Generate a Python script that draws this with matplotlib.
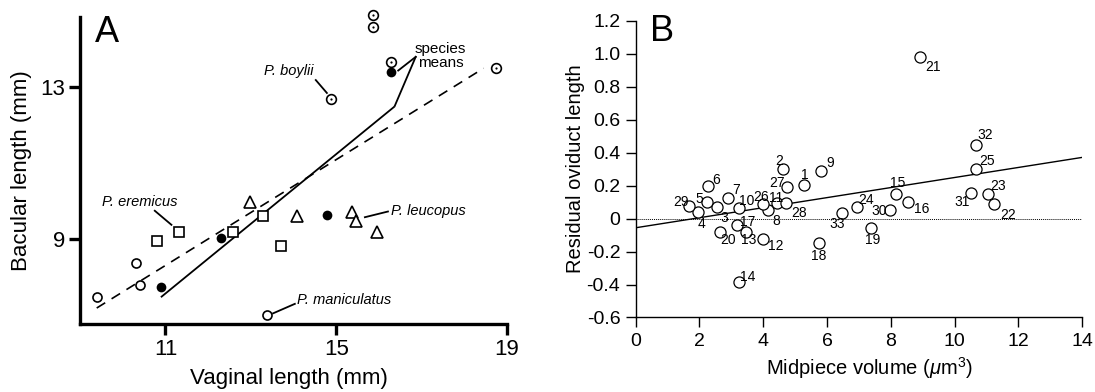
import numpy as np
import matplotlib
matplotlib.use('Agg')
import matplotlib.pyplot as plt

plt.rcParams['font.family'] = ['Liberation Sans', 'DejaVu Sans']
plt.rcParams['mathtext.fontset'] = 'custom'
plt.rcParams['mathtext.rm'] = 'Liberation Sans'
plt.rcParams['mathtext.it'] = 'Liberation Sans:italic'

# ---- Panel A: vaginal vs bacular length (mm)
maniculatus_x = [9.40, 10.31, 10.40, 13.37]
maniculatus_y = [7.47, 8.37, 7.79, 7.00]
boylii_x = [14.87, 15.86, 15.86, 16.27, 18.73]
boylii_y = [12.68, 14.88, 14.57, 13.65, 13.51]
eremicus_x = [10.81, 11.32, 12.59, 13.29, 13.70]
eremicus_y = [8.95, 9.18, 9.18, 9.61, 8.80]
leucopus_x = [12.99, 14.07, 15.36, 15.47, 15.95]
leucopus_y = [9.97, 9.61, 9.72, 9.48, 9.17]
means_x = [10.89, 12.29, 14.79, 16.29]
means_y = [7.74, 9.03, 9.63, 13.38]
# fitted lines (species means = solid, all points = dashed)
means_fit_x = [10.91, 16.35]
means_fit_y = [7.48, 12.47]
all_fit_x = [9.39, 18.45]
all_fit_y = [7.18, 13.49]
a_xticks = [11, 15, 19]
a_yticks = [9, 13]

# ---- Panel B: midpiece volume vs residual oviduct length
species_id = list(range(1, 34))
midpiece = [5.29, 4.61, 2.56, 1.97, 2.23, 2.27, 2.91, 4.16, 5.81, 3.24,
            4.43, 3.99, 3.46, 3.24, 8.17, 8.55, 3.17, 5.75, 7.37, 2.66,
            8.90, 11.24, 11.04, 6.95, 10.66, 4.00, 4.76, 4.72, 1.68, 7.96,
            10.51, 10.66, 6.48]
residual = [0.203, 0.298, 0.072, 0.041, 0.100, 0.200, 0.122, 0.052, 0.290, 0.062,
            0.097, -0.123, -0.084, -0.387, 0.148, 0.098, -0.039, -0.150, -0.059, -0.080,
            0.981, 0.088, 0.148, 0.068, 0.298, 0.091, 0.189, 0.092, 0.079, 0.052,
            0.156, 0.445, 0.035]
b_fit_x = [0, 14]
b_fit_y = [-0.056, 0.371]
b_xticks = [0, 2, 4, 6, 8, 10, 12, 14]
b_yticks = [-0.6, -0.4, -0.2, 0, 0.2, 0.4, 0.6, 0.8, 1.0, 1.2]

# label offsets (pixels) of the point numbers in B
label_offsets = {
    1: (0, 10.5), 2: (-3, 8), 3: (7, -11.5), 4: (3, -12), 5: (-7, 3),
    6: (8, 6), 7: (8, 8), 8: (8, -11), 9: (9, 8), 10: (8, 7),
    11: (-1, 5), 12: (13, -7.5), 13: (3, -7.5), 14: (9, 5.5), 15: (1, 10.7),
    16: (13.7, -7), 17: (11, 3), 18: (0, -12.5), 19: (1.5, -11.7), 20: (7.5, -8),
    21: (13, -10), 22: (13.5, -10.8), 23: (10.5, 7.7), 24: (9, 7), 25: (11, 8),
    26: (-2, 7), 27: (-10, 4), 28: (13, -10), 29: (-8, 4), 30: (-10, -1.5),
    31: (-8.5, -9.3), 32: (10, 10.3), 33: (-5, -11.5),
}


def style_axes(ax, lw, ticklen, tickwidth, labelsize, pad):
    ax.spines['top'].set_visible(False)
    ax.spines['right'].set_visible(False)
    ax.spines['left'].set_linewidth(lw)
    ax.spines['bottom'].set_linewidth(lw)
    ax.tick_params(direction='out', length=ticklen, width=tickwidth,
                   labelsize=labelsize, pad=pad)


def plot_panel_a(ax):
    pointer = dict(color='black', lw=1.3)
    ax.plot(all_fit_x, all_fit_y, color='black', lw=1.2, dashes=(6, 4.5))
    ax.plot(means_fit_x, means_fit_y, color='black', lw=1.3)

    mk = dict(linestyle='none', color='black', clip_on=False)
    ax.plot(maniculatus_x, maniculatus_y, marker='o', ms=6.5, mfc='white', mew=1.2, **mk)
    ax.plot(boylii_x, boylii_y, marker='o', ms=7, mfc='white', mew=1.2, **mk)
    ax.plot(boylii_x, boylii_y, marker='o', ms=1.6, mfc='black', mew=0, **mk)
    ax.plot(eremicus_x, eremicus_y, marker='s', ms=6.5, mfc='white', mew=1.2, **mk)
    ax.plot(leucopus_x, leucopus_y, marker='^', ms=8.5, mfc='white', mew=1.2, **mk)
    ax.plot(means_x, means_y, marker='o', ms=7, mfc='black', mew=0, **mk)

    ax.text(13.89, 13.42, 'P. boylii', style='italic', fontsize=10.5, ha='center', va='center')
    ax.plot([14.52, 14.78], [13.18, 12.84], **pointer)
    ax.text(17.44, 13.82, 'species\nmeans', fontsize=11, ha='center', va='center', linespacing=1.0)
    ax.plot([16.86, 16.45], [13.79, 13.43], **pointer)
    ax.plot([16.86, 16.37], [13.79, 12.50], **pointer)
    ax.text(10.40, 9.96, 'P. eremicus', style='italic', fontsize=10.5, ha='center', va='center')
    ax.plot([10.75, 11.14], [9.74, 9.37], **pointer)
    ax.text(16.29, 9.74, 'P. leucopus', style='italic', fontsize=10.5, ha='left', va='center')
    ax.plot([15.67, 16.21], [9.57, 9.72], **pointer)
    ax.text(14.08, 7.39, 'P. maniculatus', style='italic', fontsize=10.5, ha='left', va='center')
    ax.plot([13.52, 14.03], [7.04, 7.29], **pointer)

    ax.set_xlim(9, 19)
    ax.set_ylim(6.76, 14.84)
    ax.set_xticks(a_xticks)
    ax.set_yticks(a_yticks)
    style_axes(ax, 2.4, 8, 2.4, 16, 3)
    ax.set_xlabel('Vaginal length (mm)', fontsize=16, va='center')
    ax.xaxis.set_label_coords(0.49, -0.179)
    ax.set_ylabel('Bacular length (mm)', fontsize=16, va='center')
    ax.yaxis.set_label_coords(-0.138, 0.5)
    ax.text(0.063, 0.951, 'A', transform=ax.transAxes, fontsize=26, ha='center', va='center')


def plot_panel_b(ax):
    ax.plot(b_fit_x, b_fit_y, color='black', lw=1.0)
    ax.axhline(0, color='black', lw=0.7, ls=(0, (1, 1)))
    ax.plot(midpiece, residual, linestyle='none', marker='o', ms=8, mfc='white',
            mec='black', mew=0.9, clip_on=False)
    for i, x, y in zip(species_id, midpiece, residual):
        dx, dy = label_offsets[i]
        ax.annotate(str(i), (x, y), xytext=(dx, dy), textcoords='offset pixels',
                    ha='center', va='center', fontsize=10)

    ax.set_xlim(0, 14)
    ax.set_ylim(-0.6, 1.2)
    ax.set_xticks(b_xticks)
    ax.set_yticks(b_yticks)
    ax.set_yticklabels(['0' if t == 0 else '%.1f' % t for t in b_yticks])
    style_axes(ax, 1.0, 7, 1.0, 14, 4)
    ax.set_xlabel(r'Midpiece volume ($\mathit{\mu}$m$^3$)', fontsize=14.5, va='center')
    ax.xaxis.set_label_coords(0.524, -0.172)
    ax.set_ylabel('Residual oviduct length', fontsize=14.5, va='center')
    ax.yaxis.set_label_coords(-0.135, 0.5)
    ax.text(0.059, 0.965, 'B', transform=ax.transAxes, fontsize=26, ha='center', va='center')


def main():
    fig = plt.figure(figsize=(10.95, 3.92), dpi=100)
    ax_a = fig.add_axes([0.0731, 0.1735, 0.390, 0.7832])
    ax_b = fig.add_axes([0.5804, 0.1901, 0.4080, 0.7571])
    plot_panel_a(ax_a)
    plot_panel_b(ax_b)
    fig.savefig('out.png', dpi=100)


if __name__ == "__main__":
    main()
